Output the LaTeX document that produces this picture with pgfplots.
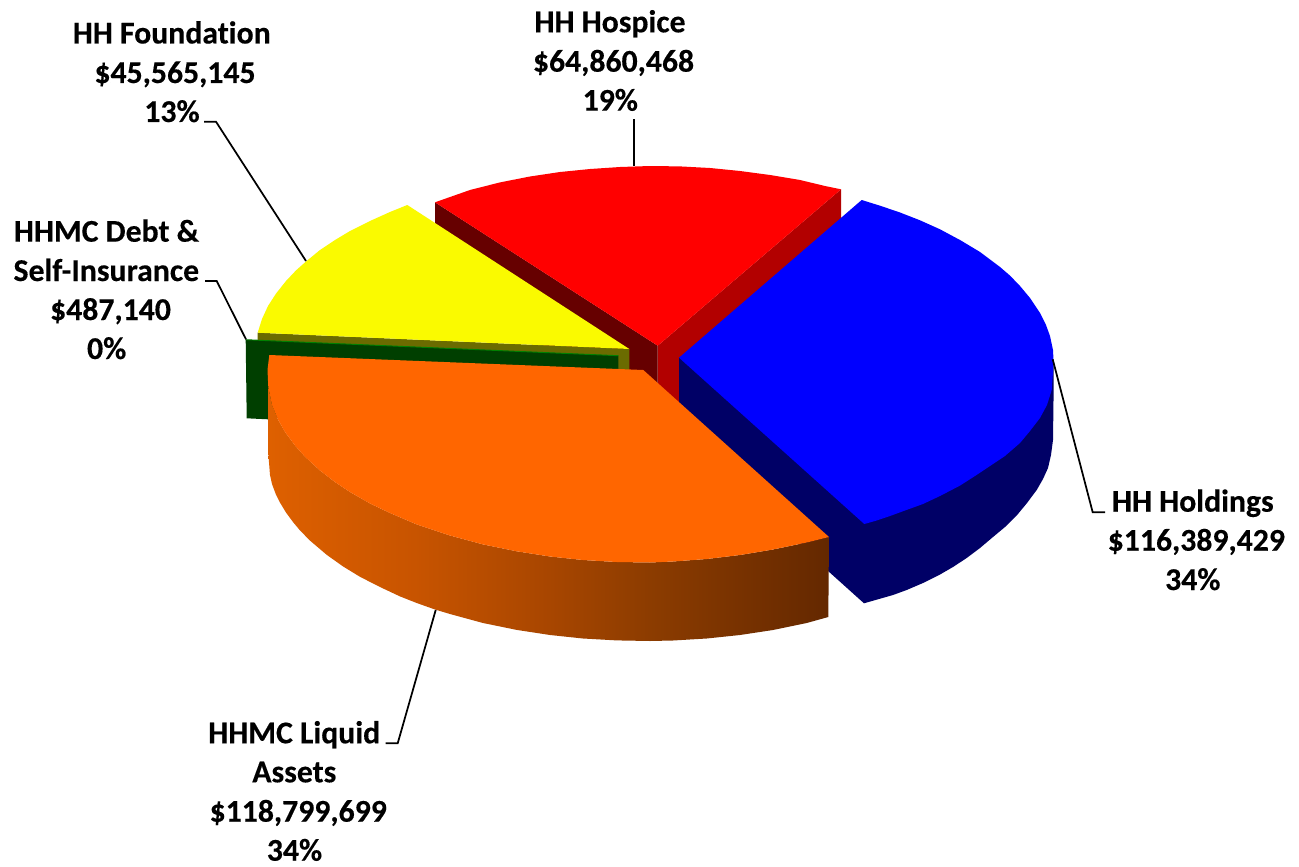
\documentclass[border=0pt]{standalone}
\usepackage{pgfplots}
\pgfplotsset{compat=1.18}
\usepackage{fontspec}
\setmainfont{Carlito}[Ligatures=NoCommon,BoldFeatures={FakeBold=0.3}]
\definecolor{oa}{HTML}{DE6000}
\definecolor{ob}{HTML}{C85400}
\definecolor{oc}{HTML}{A84600}
\definecolor{od}{HTML}{8C3C00}
\definecolor{oe}{HTML}{642800}
\definecolor{otop}{HTML}{FF6600}
\definecolor{navy2}{HTML}{000066}
\definecolor{dred}{HTML}{660000}
\definecolor{mred}{HTML}{B20000}
\definecolor{olive2}{HTML}{6B6B00}
\definecolor{dgreen}{HTML}{003F00}
\definecolor{lgreen}{HTML}{008000}
\definecolor{yel}{HTML}{FAFA00}
\pgfdeclarehorizontalshading{orangeside}{100bp}{color(0bp)=(oa); color(25bp)=(oa); color(38bp)=(ob); color(50bp)=(oc); color(59bp)=(od); color(75bp)=(oe); color(100bp)=(oe)}
\newcommand{\lbl}[3]{\node[anchor=base,inner sep=0pt,font=\fontsize{23.8}{28}\selectfont\bfseries] at (axis cs:#1,#2) {#3};}
\begin{document}
\begin{tikzpicture}
\begin{axis}[
  scale only axis, width=974.25pt, height=650.25pt,
  xmin=0, xmax=1299, ymin=0, ymax=867, y dir=reverse,
  hide axis, clip=false, no marks
]
% page extent
\addplot[fill=white, draw=none] coordinates {(0,0)(1299,0)(1299,867)(0,867)};
% red sides
\addplot[fill=mred, draw=none] coordinates {(657.7,345.7)(841,189.3)(841,269)(657.7,425)};
\addplot[fill=dred, draw=none] coordinates {(435,202.3)(657.7,345.7)(657.7,425)(435,282)};
% blue side
\addplot[fill=navy2, draw=none] coordinates {(679,357.7)(1053.5,360)(1053.5,400)(1053,440)(1051,455)(1048,468)(1043,479)(1036.7,490)(1027,503)(1016.7,515.5)(1005,527)(993,537)(980,548)(966.7,558)(953,567)(940,574.5)(923,583)(906.7,590)(893,595)(864,603.3)(679,437)};
% yellow side
\addplot[fill=olive2, draw=none] coordinates {(257.7,332.7)(629.3,349)(629.3,428)(257.7,412)};
% green sliver
\addplot[fill=dgreen, draw=none] coordinates {(245.7,339.7)(618.3,355.7)(618.3,372)(268,419.3)(246.7,418.3)};
\addplot[lgreen, line width=0.7pt] coordinates {(245.7,339.7)(618.3,355.7)};
% tops
\addplot[fill=blue, draw=none] coordinates {(679,357.7)(861.7,200)(880,205.7)(900,212.5)(920,220.3)(940,229.3)(960,240)(980,252)(1000,267)(1010,275.6)(1020,286)(1030,298)(1040,313)(1046,325)(1050,336)(1053,350)(1053.5,360)(1053,372)(1051.7,390)(1047,405)(1040,418)(1030,431)(1020,443)(1005,456)(990,466)(975,476)(960,485.6)(940,496)(923,504)(905,510.5)(890,516)(875,521)(864.3,524)};
\addplot[fill=red, draw=none] coordinates {(435,202.3)(657.7,345.7)(841,189.3)(825,186)(800,180)(770,175)(740,171)(710,168)(680,166.4)(650,166)(620,167)(590,169)(560,172)(530,176.5)(500,182.4)(470,190)};
\addplot[fill=yel, draw=none] coordinates {(407.3,205)(629.3,349)(257.7,332.7)(262,319)(268,306)(276,293.6)(286,281)(296,270.4)(306,261.5)(320,250)(335,240)(350,231)(370,221)(390,212)};
% orange
\addplot[shading=orangeside, draw=none] coordinates {(268.3,387)(272,405)(278,419.5)(285,431.9)(295,445.5)(305,456.7)(320,470.5)(335,482)(350,492)(370,503.5)(390,513)(416.7,524.4)(450,535.5)(483,544.4)(516.7,551.3)(550,556.5)(583,560)(616.7,562)(650,562.5)(673,561.5)(706.7,559)(740,555)(773,549.5)(806.7,542.5)(829,537)(828.3,617)(806.7,623)(773,630)(740,635)(706.7,638.5)(673,640.5)(650,641)(616.7,640.4)(583,638.5)(550,635)(516.7,629.9)(483,623)(450,614)(435,609.5)(416.7,603)(400,596.4)(380,587)(360,576.8)(343,566.4)(326.7,554.8)(310,540.6)(300,530.4)(293,522)(286,512.5)(280,502.6)(276,494.7)(272,484)(270,475)(268.5,456)(268.3,420)};
\addplot[fill=otop, draw=none] coordinates {(269.3,355)(643.3,370)(680,403)(829,537)(806.7,542.5)(773,549.5)(740,555)(706.7,559)(673,561.5)(650,562.5)(616.7,562)(583,560)(550,556.5)(516.7,551.3)(483,544.4)(450,535.5)(416.7,524.4)(390,513)(370,503.5)(350,492)(335,482)(320,470.5)(305,456.7)(295,445.5)(285,431.9)(278,419.5)(272,405)(268.3,387)(267.5,370)};
% leaders
\addplot[black, line width=1.3pt] coordinates {(204,121.7)(216,121.7)(306,261)};
\addplot[black, line width=1.3pt] coordinates {(205,281)(216.7,281)(246,339.3)};
\addplot[black, line width=1.3pt] coordinates {(634,119.3)(634,166)};
\addplot[black, line width=1.3pt] coordinates {(1052.7,359.3)(1092.7,512.3)(1105,512.3)};
\addplot[black, line width=1.3pt] coordinates {(435.7,610)(397.7,743.3)(385.7,743.3)};
% labels
\lbl{171.7}{43.5}{HH Foundation}
\lbl{175}{83}{\$45,565,145}
\lbl{172}{122}{13\%}
\lbl{106.5}{241.7}{HHMC Debt \&}
\lbl{106.3}{281}{Self-Insurance}
\lbl{110.5}{320}{\$487,140}
\lbl{106.7}{359}{0\%}
\lbl{610}{32.3}{HH Hospice}
\lbl{613.5}{71.7}{\$64,860,468}
\lbl{610.3}{110.7}{19\%}
\lbl{1192.8}{511.7}{HH Holdings}
\lbl{1196.3}{550.7}{\$116,389,429}
\lbl{1192.8}{590}{34\%}
\lbl{294.2}{743.3}{HHMC Liquid}
\lbl{294.3}{782.3}{Assets}
\lbl{298.2}{821.7}{\$118,799,699}
\lbl{294.5}{860.7}{34\%}
\end{axis}
\end{tikzpicture}
\end{document}
